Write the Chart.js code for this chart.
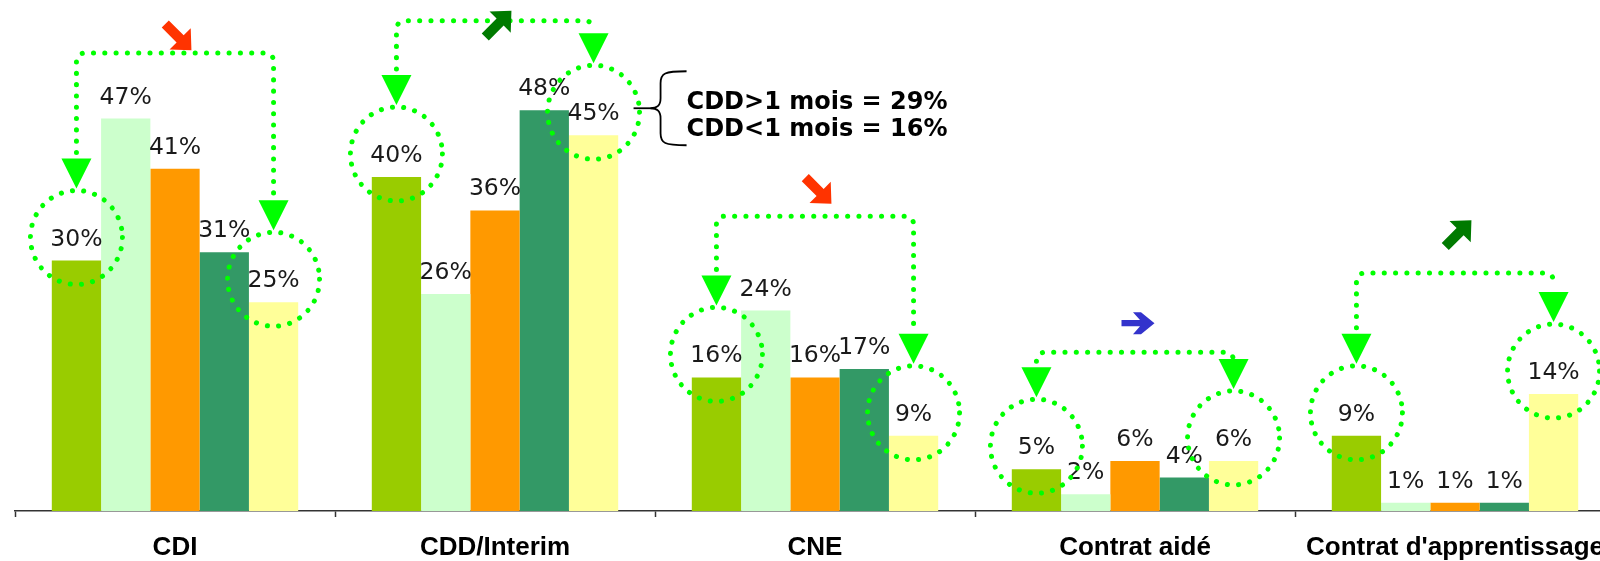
<!DOCTYPE html>
<html>
<head>
<meta charset="utf-8">
<script src="https://cdn.jsdelivr.net/npm/chart.js@4.4.1/dist/chart.umd.min.js"></script>
<style>
  html, body { margin: 0; padding: 0; background: #fff; overflow: hidden; }
  #wrap { width: 1600px; height: 561px; overflow: hidden; position: relative; }
  canvas { display: block; }
</style>
</head>
<body>
<div id="wrap"><canvas id="c" width="1620" height="561"></canvas></div>
<script>
// ---- Data ----
const categories = ["CDI", "CDD/Interim", "CNE", "Contrat aidé", "Contrat d'apprentissage"];
const series1 = [30, 40, 16, 5, 9];
const series2 = [47, 26, 24, 2, 1];
const series3 = [41, 36, 16, 6, 1];
const series4 = [31, 48, 17, 4, 1];
const series5 = [25, 45, 9, 6, 14];
const seriesColors = ['#99CC00', '#CCFFCC', '#FF9900', '#339966', '#FFFF99'];
const trendDirection = ['down', 'up', 'down', 'flat', 'up'];
const braceLines = ['CDD>1 mois = 29%', 'CDD<1 mois = 16%'];

// ---- Annotation layout (axis units) ----
const annotationCfg = {
  connectorLevel: [54.85, 58.7, 35.3, 19.0, 28.5],
  trendLevel: [56.8, 58.3, 38.4, 22.5, 33.2],
  braceCategory: 1
};

const allSeries = [series1, series2, series3, series4, series5];

const valueLabels = {
  id: 'valueLabels',
  afterDatasetsDraw(chart) {
    const ctx = chart.ctx;
    ctx.save();
    ctx.font = '23.5px "DejaVu Sans"';
    ctx.fillStyle = '#1a1a1a';
    ctx.textAlign = 'center';
    ctx.textBaseline = 'alphabetic';
    allSeries.forEach((s, d) => {
      const meta = chart.getDatasetMeta(d);
      meta.data.forEach((bar, i) => {
        ctx.fillText(s[i] + '%', bar.x, bar.y - 15);
      });
    });
    ctx.restore();
  }
};

function drawTrendArrow(ctx, cx, cy, dir) {
  let pts, color, angle;
  if (dir === 'flat') {
    color = '#3333CC'; angle = 0;
    pts = [[-16.5,-3.2],[2,-3.2],[-5,-11],[3,-11],[16.5,0],[3,11],[-5,11],[2,3.2],[-16.5,3.2]];
  } else {
    color = dir === 'down' ? '#FF3300' : '#007A00';
    angle = dir === 'down' ? Math.PI / 4 : -Math.PI / 4;
    pts = [[-18,-5],[3,-5],[3,-15],[19,0],[3,15],[3,5],[-18,5]];
  }
  ctx.save();
  ctx.translate(cx, cy);
  ctx.rotate(angle);
  ctx.fillStyle = color;
  ctx.beginPath();
  pts.forEach((p, k) => k ? ctx.lineTo(p[0], p[1]) : ctx.moveTo(p[0], p[1]));
  ctx.closePath();
  ctx.fill();
  ctx.restore();
}

const annotations = {
  id: 'annotations',
  afterDraw(chart) {
    const ctx = chart.ctx;
    const y = chart.scales.y;
    const m1 = chart.getDatasetMeta(0), m5 = chart.getDatasetMeta(4);
    const rx = 46, ry = 47;
    const green = '#00FF00';
    categories.forEach((cat, i) => {
      const b1 = m1.data[i], b5 = m5.data[i];
      const c1 = { x: b1.x, y: b1.y - 23 };
      const c5 = { x: b5.x, y: b5.y - 23 };
      ctx.save();
      ctx.strokeStyle = green;
      ctx.lineWidth = 5;
      ctx.lineCap = 'round';
      ctx.setLineDash([0.1, 11.2]);
      [c1, c5].forEach(c => {
        ctx.beginPath();
        ctx.ellipse(c.x, c.y, rx, ry, 0, 0, Math.PI * 2);
        ctx.stroke();
      });
      const lvl = y.getPixelForValue(annotationCfg.connectorLevel[i]);
      const t1 = c1.y - ry - 2, t5 = c5.y - ry - 2;
      const rc = 8;
      ctx.beginPath();
      ctx.moveTo(c1.x, t1 - 36);
      ctx.lineTo(c1.x, lvl + rc);
      ctx.arcTo(c1.x, lvl, c1.x + rc, lvl, rc);
      ctx.lineTo(c5.x - rc, lvl);
      ctx.arcTo(c5.x, lvl, c5.x, lvl + rc, rc);
      ctx.lineTo(c5.x, t5 - 36);
      ctx.stroke();
      ctx.restore();
      // arrowheads
      ctx.save();
      ctx.fillStyle = green;
      [[c1.x, t1], [c5.x, t5]].forEach(([x, t]) => {
        ctx.beginPath();
        ctx.moveTo(x, t);
        ctx.lineTo(x - 15, t - 30);
        ctx.lineTo(x + 15, t - 30);
        ctx.closePath();
        ctx.fill();
      });
      ctx.restore();
      drawTrendArrow(ctx, (c1.x + c5.x) / 2 + 3, y.getPixelForValue(annotationCfg.trendLevel[i]), trendDirection[i]);
    });
    // brace
    const bb = m5.data[annotationCfg.braceCategory];
    const bx = bb.x, by = bb.y;
    const midY = by - 27;
    ctx.save();
    ctx.strokeStyle = '#000';
    ctx.lineWidth = 1.8;
    ctx.beginPath();
    ctx.moveTo(bx + 40, midY);
    ctx.lineTo(bx + 58, midY);
    ctx.stroke();
    const sx = bx + 67, top = midY - 37, bot = midY + 37, armX = bx + 93;
    ctx.beginPath();
    ctx.moveTo(armX, top);
    ctx.bezierCurveTo(sx + 4, top, sx, top + 2, sx, top + 12);
    ctx.lineTo(sx, midY - 10);
    ctx.bezierCurveTo(sx, midY - 2, sx - 4, midY, sx - 10, midY);
    ctx.bezierCurveTo(sx - 4, midY, sx, midY + 2, sx, midY + 10);
    ctx.lineTo(sx, bot - 12);
    ctx.bezierCurveTo(sx, bot - 2, sx + 4, bot, armX, bot);
    ctx.stroke();
    ctx.font = 'bold 24px "DejaVu Sans"';
    ctx.fillStyle = '#000';
    ctx.textAlign = 'left';
    ctx.textBaseline = 'alphabetic';
    ctx.fillText(braceLines[0], armX, by - 26);
    ctx.fillText(braceLines[1], armX, by + 1);
    ctx.restore();
  }
};

new Chart(document.getElementById('c'), {
  type: 'bar',
  data: {
    labels: categories,
    datasets: allSeries.map((s, d) => ({
      label: 'S' + (d + 1),
      data: s,
      backgroundColor: seriesColors[d],
      borderWidth: 0,
      barPercentage: 1,
      categoryPercentage: 0.77
    }))
  },
  options: {
    responsive: false,
    animation: false,
    layout: { padding: { top: 10, left: 15, right: 5, bottom: 0 } },
    plugins: { legend: { display: false }, tooltip: { enabled: false } },
    scales: {
      x: {
        afterFit(scale) { scale.height = 50; },
        grid: { display: true, drawOnChartArea: false, drawTicks: true, tickLength: 6, color: '#333', tickColor: '#333', tickWidth: 1.5 },
        border: { display: true, color: '#333', width: 1.5 },
        ticks: { color: '#000', padding: 15, font: { family: '"Liberation Sans", Arial', size: 26, weight: 'bold' } }
      },
      y: { display: false, min: 0, max: 60 }
    }
  },
  plugins: [valueLabels, annotations]
});
</script>
</body>
</html>
